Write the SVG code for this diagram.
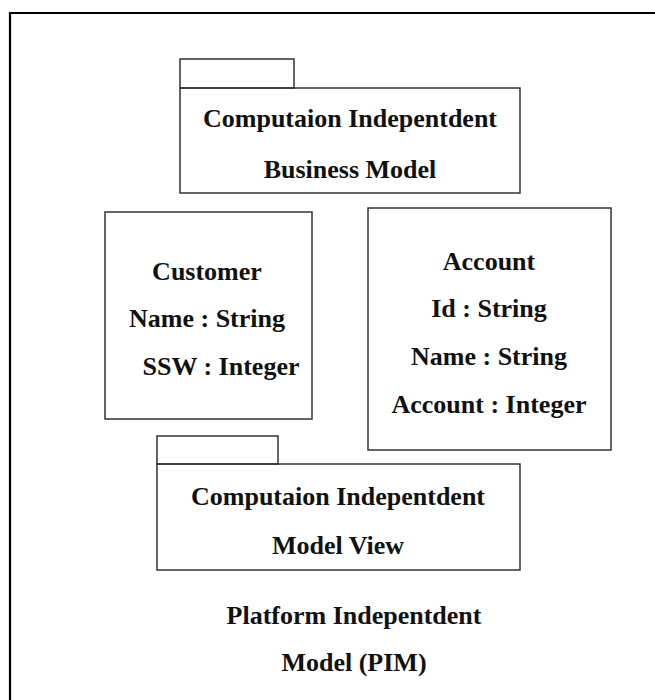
<svg xmlns="http://www.w3.org/2000/svg" width="655" height="700" viewBox="0 0 655 700">
<style>
.box{fill:none;stroke:#333;stroke-width:1.5}
.t{font-family:"Liberation Serif","Times New Roman",serif;font-weight:bold;font-size:26px;fill:#111;text-anchor:middle}
</style>
<rect width="655" height="700" fill="#fff"/>
<g id="frame">
<path d="M10,700 V13 H655" fill="none" stroke="#000" stroke-width="2.2"/>
</g>
<g id="connectors"></g>
<g id="cim-business-model">
<rect class="box" x="180" y="59" width="114" height="29"/>
<rect class="box" x="180" y="88" width="340" height="105"/>
<text class="t" x="350" y="127">Computaion Indepentdent</text>
<text class="t" x="350" y="178">Business Model</text>
</g>
<g id="customer">
<rect class="box" x="105" y="212" width="207" height="207"/>
<text class="t" x="207" y="280">Customer</text>
<text class="t" x="207" y="327">Name : String</text>
<text class="t" x="221" y="375">SSW : Integer</text>
</g>
<g id="account">
<rect class="box" x="368" y="208" width="243" height="242"/>
<text class="t" x="489" y="270">Account</text>
<text class="t" x="489" y="317">Id : String</text>
<text class="t" x="489" y="365">Name : String</text>
<text class="t" x="489" y="413">Account : Integer</text>
</g>
<g id="cim-model-view">
<rect class="box" x="157" y="436" width="121" height="28"/>
<rect class="box" x="157" y="464" width="363" height="106"/>
<text class="t" x="338" y="505">Computaion Indepentdent</text>
<text class="t" x="338" y="554">Model View</text>
</g>
<g id="pim-label">
<text class="t" x="354" y="624">Platform Indepentdent</text>
<text class="t" x="354" y="671">Model (PIM)</text>
</g>
</svg>
